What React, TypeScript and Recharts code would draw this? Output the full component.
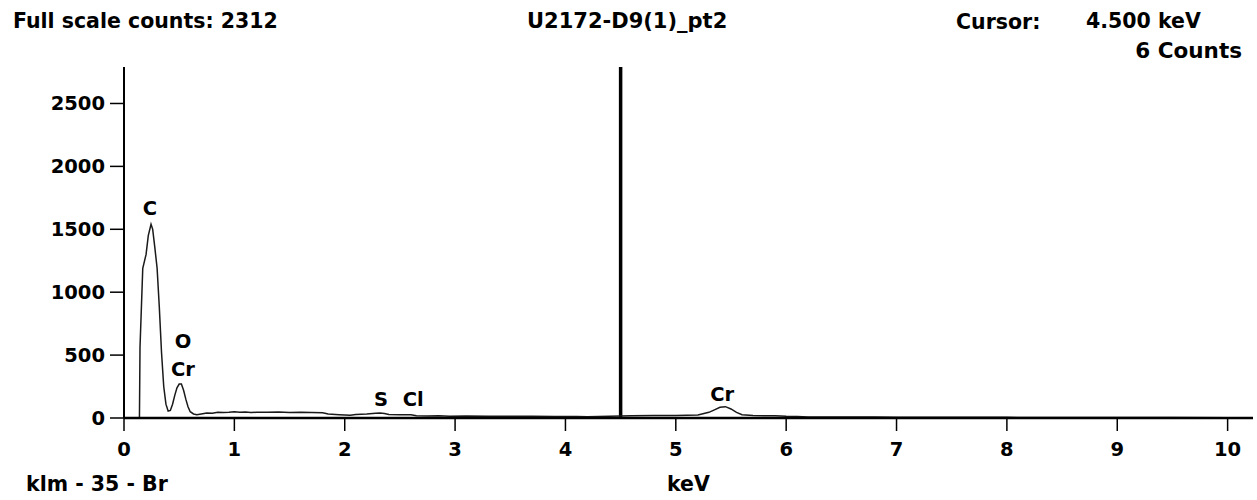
import React from "react";
import { LineChart, Line, XAxis, YAxis, ReferenceLine, ReferenceDot } from "recharts";

const energies = [
  0.0, 0.14, 0.145, 0.17, 0.2, 0.22, 0.245, 0.26, 0.28, 0.3, 0.32, 0.34, 0.36, 0.38, 0.4, 0.42, 0.44,
  0.46, 0.48, 0.5, 0.52, 0.54, 0.56, 0.58, 0.6, 0.63, 0.66, 0.7, 0.75, 0.8, 0.85, 0.9, 0.95, 1.0,
  1.05, 1.1, 1.15, 1.2, 1.3, 1.4, 1.5, 1.6, 1.7, 1.8, 1.85, 1.95, 2.05, 2.1, 2.2, 2.28, 2.32, 2.36,
  2.4, 2.5, 2.6, 2.65, 2.75, 2.85, 2.95, 3.1, 3.3, 3.5, 3.7, 3.9, 4.1, 4.2, 4.4, 4.6, 4.8, 5.0, 5.1,
  5.2, 5.3, 5.35, 5.4, 5.45, 5.5, 5.55, 5.6, 5.7, 5.8, 5.9, 6.0, 6.1, 6.2, 6.4, 6.6, 6.8, 7.0, 7.5,
  8.0, 8.5, 9.0, 9.5, 10.0, 10.23,
];
const counts = [
  0, 0, 560, 1190, 1300, 1450, 1540, 1500, 1350, 1190, 880, 520, 250, 110, 55, 60, 110,
  180, 240, 270, 270, 220, 150, 90, 50, 32, 26, 32, 40, 38, 45, 43, 46, 50,
  45, 47, 43, 46, 45, 47, 44, 46, 44, 42, 32, 26, 21, 27, 31, 37, 39, 36,
  28, 26, 25, 18, 16, 18, 14, 16, 14, 13, 14, 12, 12, 10, 13, 18, 20, 20, 22,
  24, 45, 65, 85, 90, 72, 45, 26, 20, 18, 18, 14, 12, 8, 8, 7, 7, 6, 5,
  5, 4, 3, 3, 2, 2,
];

const peakNames = ["C", "O", "Cr", "S", "Cl", "Cr"];
const peakEnergies = [0.235, 0.535, 0.535, 2.33, 2.62, 5.42];
const peakLabelCounts = [1667, 610, 385, 149, 149, 188];

const xTicks = [0, 1, 2, 3, 4, 5, 6, 7, 8, 9, 10];
const yTicks = [0, 500, 1000, 1500, 2000, 2500];

const cursorEnergy = 4.5;

const data = energies.map((e, i) => ({ e, c: counts[i] }));

const FONT = "'DejaVu Sans', Verdana, sans-serif";
const HEAD = 20.5;

const textStyle: React.CSSProperties = {
  position: "absolute",
  fontFamily: FONT,
  fontWeight: "bold",
  fontSize: HEAD,
  color: "#000",
  whiteSpace: "nowrap",
  lineHeight: `${HEAD}px`,
};

const PeakLabel = (props: any) => {
  const { viewBox, value } = props;
  const cx = viewBox.x + (viewBox.width || 0) / 2;
  const cy = viewBox.y + (viewBox.height || 0) / 2;
  return (
    <text
      x={cx}
      y={cy}
      textAnchor="middle"
      dominantBaseline="central"
      fontFamily={FONT}
      fontWeight="bold"
      fontSize={19.5}
      fill="#000"
    >
      {value}
    </text>
  );
};

export default function App() {
  return (
    <div style={{ position: "absolute", left: 0, top: 0, width: 1257, height: 500, background: "#fff" }}>
      <LineChart width={1257} height={500} data={data} margin={{ top: 67, right: 4, bottom: 52, left: 0 }}>
        <XAxis
          type="number"
          dataKey="e"
          domain={[0, 10.23]}
          ticks={xTicks}
          allowDataOverflow
          height={30}
          tickSize={13}
          tickMargin={11}
          axisLine={{ stroke: "#000", strokeWidth: 2.5 }}
          tickLine={{ stroke: "#000", strokeWidth: 1.5 }}
          tick={{ fill: "#000", fontFamily: FONT, fontWeight: "bold", fontSize: 19.5 }}
        />
        <YAxis
          type="number"
          domain={[0, 2790]}
          ticks={yTicks}
          allowDataOverflow
          width={124}
          tickSize={14}
          tickMargin={5}
          axisLine={{ stroke: "#000", strokeWidth: 2 }}
          tickLine={{ stroke: "#000", strokeWidth: 1.5 }}
          tick={{ fill: "#000", fontFamily: FONT, fontWeight: "bold", fontSize: 19.5 }}
        />
        <ReferenceLine x={cursorEnergy} stroke="#000" strokeWidth={3.5} />
        <Line
          type="linear"
          dataKey="c"
          stroke="#1a1a1a"
          strokeWidth={1.5}
          dot={false}
          isAnimationActive={false}
        />
        {peakNames.map((n, i) => (
          <ReferenceDot
            key={i}
            x={peakEnergies[i]}
            y={peakLabelCounts[i]}
            r={0}
            stroke="none"
            fill="none"
            label={<PeakLabel value={n} />}
          />
        ))}
      </LineChart>
      <div style={{ ...textStyle, left: 13, top: 11 }}>Full scale counts: 2312</div>
      <div style={{ ...textStyle, left: 527, top: 11, fontSize: 21 }}>U2172-D9(1)_pt2</div>
      <div style={{ ...textStyle, left: 956, top: 12 }}>Cursor:</div>
      <div style={{ ...textStyle, left: 1086, top: 11 }}>4.500 keV</div>
      <div style={{ ...textStyle, right: 15, top: 41, fontSize: 21.5 }}>6 Counts</div>
      <div style={{ ...textStyle, left: 26, top: 474 }}>klm - 35 - Br</div>
      <div style={{ ...textStyle, left: 667, top: 474 }}>keV</div>
    </div>
  );
}
